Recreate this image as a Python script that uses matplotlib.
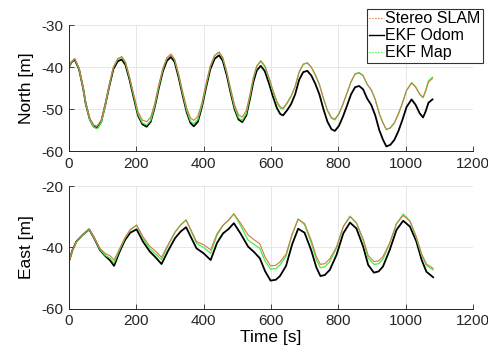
import matplotlib
matplotlib.use('Agg')
import matplotlib.pyplot as plt
from matplotlib.lines import Line2D

plt.rcParams['font.family'] = ['Liberation Sans', 'DejaVu Sans']
plt.rcParams['axes.unicode_minus'] = False

# ---------- North ----------
t_north = [0, 8, 17, 30, 42, 50, 62, 74, 84, 96, 108, 120, 132, 145, 157, 168, 180, 193, 205, 218,
           231, 243, 255, 267, 279, 291, 303, 314, 326, 338, 350, 361, 371, 383, 395, 407, 420, 433,
           446, 457, 469, 480, 492, 504, 515, 527, 538, 548, 558, 570, 582, 594, 606, 618, 628, 636,
           648, 660, 672, 684, 696, 708, 720, 732, 744, 756, 768, 780, 790, 802, 814, 826, 838, 850,
           862, 874, 886, 898, 910, 922, 933, 943, 955, 967, 979, 991, 1003, 1018, 1030, 1042, 1052,
           1060, 1068, 1080]
odom_north = [-40.0, -38.8, -38.2, -40.5, -45.0, -48.8, -52.5, -54.2, -54.5, -53.0, -49.0, -44.5,
              -40.5, -38.6, -38.2, -39.5, -43.0, -47.5, -51.5, -53.6, -54.2, -53.0, -49.5, -45.0,
              -41.0, -38.5, -37.6, -38.8, -42.5, -46.8, -50.8, -53.3, -54.1, -53.0, -49.5, -45.0,
              -40.5, -38.0, -37.2, -38.5, -42.0, -46.0, -50.0, -52.5, -53.1, -51.5, -47.5, -43.5,
              -40.8, -39.7, -41.0, -43.8, -47.0, -49.8, -51.2, -51.5, -50.3, -48.8, -46.5, -43.0,
              -41.2, -40.9, -42.0, -44.0, -46.5, -50.0, -53.0, -54.8, -55.2, -54.0, -51.8, -49.2,
              -46.5, -44.8, -44.5, -45.3, -47.5, -49.0, -51.5, -55.0, -57.3, -58.9, -58.5, -57.3,
              -55.2, -52.5, -49.5, -47.7, -49.0, -51.0, -52.0, -50.5, -48.5, -47.7]
slam_north = [-40.0, -38.7, -38.0, -40.3, -44.8, -48.5, -52.2, -53.8, -54.0, -52.6, -48.7, -44.1,
              -40.0, -38.0, -37.5, -38.8, -42.3, -46.7, -50.6, -52.6, -53.0, -51.9, -48.6, -44.2,
              -40.3, -37.8, -36.9, -38.1, -41.7, -45.9, -49.8, -52.1, -52.7, -51.7, -48.5, -44.1,
              -39.7, -37.2, -36.4, -37.7, -41.1, -45.0, -49.0, -51.4, -51.9, -50.3, -46.4, -42.4,
              -39.7, -38.5, -39.7, -42.4, -45.5, -48.2, -49.5, -49.8, -48.5, -46.9, -44.6, -41.1,
              -39.3, -39.0, -40.0, -41.8, -44.1, -47.4, -50.3, -52.0, -52.4, -51.1, -48.8, -46.2,
              -43.5, -41.7, -41.4, -42.1, -44.1, -45.4, -47.7, -51.1, -53.3, -54.9, -54.5, -53.3,
              -51.2, -48.6, -45.6, -43.8, -44.8, -46.5, -47.3, -45.7, -43.6, -42.7]
map_north = [-40.0, -38.7, -38.0, -40.4, -45.0, -48.8, -52.6, -54.3, -54.7, -53.2, -49.1, -44.3,
             -40.1, -38.1, -37.7, -39.0, -42.6, -47.1, -51.2, -53.3, -53.8, -52.7, -49.2, -44.6,
             -40.5, -37.9, -37.0, -38.3, -42.0, -46.4, -50.4, -52.9, -53.5, -52.5, -49.1, -44.5,
             -39.9, -37.3, -36.5, -37.9, -41.4, -45.5, -49.6, -52.1, -52.7, -51.0, -46.9, -42.7,
             -39.9, -38.6, -39.9, -42.7, -45.9, -48.6, -49.8, -50.0, -48.7, -47.0, -44.7, -41.2,
             -39.4, -39.0, -40.1, -41.9, -44.2, -47.5, -50.4, -52.2, -52.6, -51.2, -48.9, -46.2,
             -43.5, -41.6, -41.3, -42.0, -44.1, -45.4, -47.7, -51.1, -53.3, -54.9, -54.4, -53.2,
             -51.0, -48.4, -45.5, -43.7, -44.7, -46.4, -47.2, -45.5, -43.3, -42.4]

# ---------- East ----------
t_east = [0, 10, 22, 40, 60, 75, 92, 108, 122, 134, 150, 166, 182, 201, 220, 240, 258, 275, 295,
          315, 332, 348, 364, 379, 400, 421, 440, 458, 474, 490, 510, 532, 550, 567, 583, 599, 615,
          627, 645, 663, 681, 700, 720, 735, 747, 760, 775, 795, 815, 835, 854, 874, 889, 906, 920,
          933, 953, 973, 993, 1013, 1032, 1048, 1062, 1082]
odom_east = [-44.6, -41.0, -38.1, -36.0, -34.1, -37.0, -40.8, -42.8, -44.2, -46.0, -41.5, -37.7,
             -35.2, -34.1, -38.1, -41.3, -43.3, -45.4, -41.0, -37.0, -34.8, -33.4, -37.0, -40.3,
             -41.9, -44.1, -38.5, -35.4, -34.0, -32.1, -35.5, -39.7, -41.5, -43.5, -47.8, -50.8,
             -50.5, -49.3, -46.0, -39.0, -33.9, -35.2, -41.0, -46.5, -49.3, -49.0, -47.3, -42.4,
             -35.4, -31.9, -33.8, -39.7, -45.7, -48.2, -47.8, -46.2, -40.8, -34.3, -31.3, -33.2,
             -38.0, -44.1, -47.9, -49.7]
slam_east = [-44.6, -41.0, -38.1, -36.0, -34.0, -36.7, -40.3, -42.0, -42.7, -44.1, -40.5, -36.9,
             -34.2, -32.7, -36.5, -39.6, -41.3, -43.2, -39.0, -35.0, -32.7, -31.1, -34.6, -38.1,
             -39.1, -40.8, -35.5, -32.7, -31.2, -29.1, -32.1, -35.9, -37.5, -38.8, -43.2, -46.0,
             -45.8, -44.7, -42.2, -35.7, -30.8, -32.2, -37.7, -43.0, -45.5, -45.3, -43.7, -39.8,
             -33.2, -30.0, -32.0, -37.2, -42.6, -44.6, -44.4, -43.0, -38.5, -32.3, -29.6, -31.4,
             -36.5, -42.1, -45.4, -46.8]
map_east = [-44.6, -41.1, -38.3, -36.1, -34.0, -36.9, -40.6, -42.6, -43.5, -45.0, -40.9, -37.1,
            -34.3, -32.8, -37.0, -40.4, -42.2, -44.0, -39.3, -35.1, -32.6, -31.0, -35.0, -38.7,
            -40.0, -41.9, -36.0, -32.8, -31.1, -29.0, -32.9, -37.6, -39.0, -40.3, -44.5, -47.1,
            -46.9, -45.7, -42.8, -35.8, -30.7, -32.6, -38.6, -44.0, -46.6, -46.3, -44.6, -40.2,
            -33.2, -29.8, -32.0, -37.7, -43.5, -45.5, -45.3, -43.8, -38.8, -32.3, -29.1, -31.4,
            -36.9, -42.6, -45.9, -47.3]

x_ticks = [0, 200, 400, 600, 800, 1000, 1200]
north_ticks = [-60, -50, -40, -30]
east_ticks = [-60, -40, -20]

c_slam = '#cc7a4a'
c_odom = '#000000'
c_map = '#44ee44'

fig = plt.figure(figsize=(4.89, 3.53), dpi=100)
ax1 = fig.add_axes([0.141, 0.572, 0.826, 0.357])
ax2 = fig.add_axes([0.141, 0.125, 0.826, 0.348])


def style(ax, yticks, ylabel):
    ax.set_xlim(0, 1200)
    ax.set_xticks(x_ticks)
    ax.set_ylim(yticks[0], yticks[-1])
    ax.set_yticks(yticks)
    ax.set_ylabel(ylabel, fontsize=12.5, labelpad=5)
    ax.grid(True, color='#e3e3e3', linewidth=0.6)
    ax.set_axisbelow(True)
    for s in ['top', 'right']:
        ax.spines[s].set_visible(False)
    for s in ['left', 'bottom']:
        ax.spines[s].set_color('#262626')
        ax.spines[s].set_linewidth(0.7)
    ax.tick_params(direction='in', length=3.5, width=0.6, labelsize=11,
                   colors='#262626')
    ax.tick_params(axis='x', pad=4)
    ax.tick_params(axis='y', pad=4)


ax1.plot(t_north, odom_north, color=c_odom, lw=1.3)
ax1.plot(t_north, map_north, color=c_map, lw=0.9)
ax1.plot(t_north, slam_north, color=c_slam, lw=0.8)
style(ax1, north_ticks, 'North [m]')

ax2.plot(t_east, odom_east, color=c_odom, lw=1.3)
ax2.plot(t_east, map_east, color=c_map, lw=0.9)
ax2.plot(t_east, slam_east, color=c_slam, lw=0.8)
style(ax2, east_ticks, 'East [m]')
ax2.set_xlabel('Time [s]', fontsize=12.5, labelpad=1)

handles = [Line2D([], [], color='#d95319', lw=0.8, ls=':'),
           Line2D([], [], color=c_odom, lw=1.0),
           Line2D([], [], color='#00ff00', lw=0.8, ls=':')]
leg = fig.legend(handles, ['Stereo SLAM', 'EKF Odom', 'EKF Map'],
                 loc='upper right', bbox_to_anchor=(483 / 489, 1 - 9 / 353),
                 fontsize=11.5, frameon=True, fancybox=False, edgecolor='black',
                 handlelength=0.9, handletextpad=0.1, borderpad=0.15, labelspacing=0.12,
                 borderaxespad=0)
leg.get_frame().set_linewidth(0.8)

plt.savefig('out.png', dpi=100)
